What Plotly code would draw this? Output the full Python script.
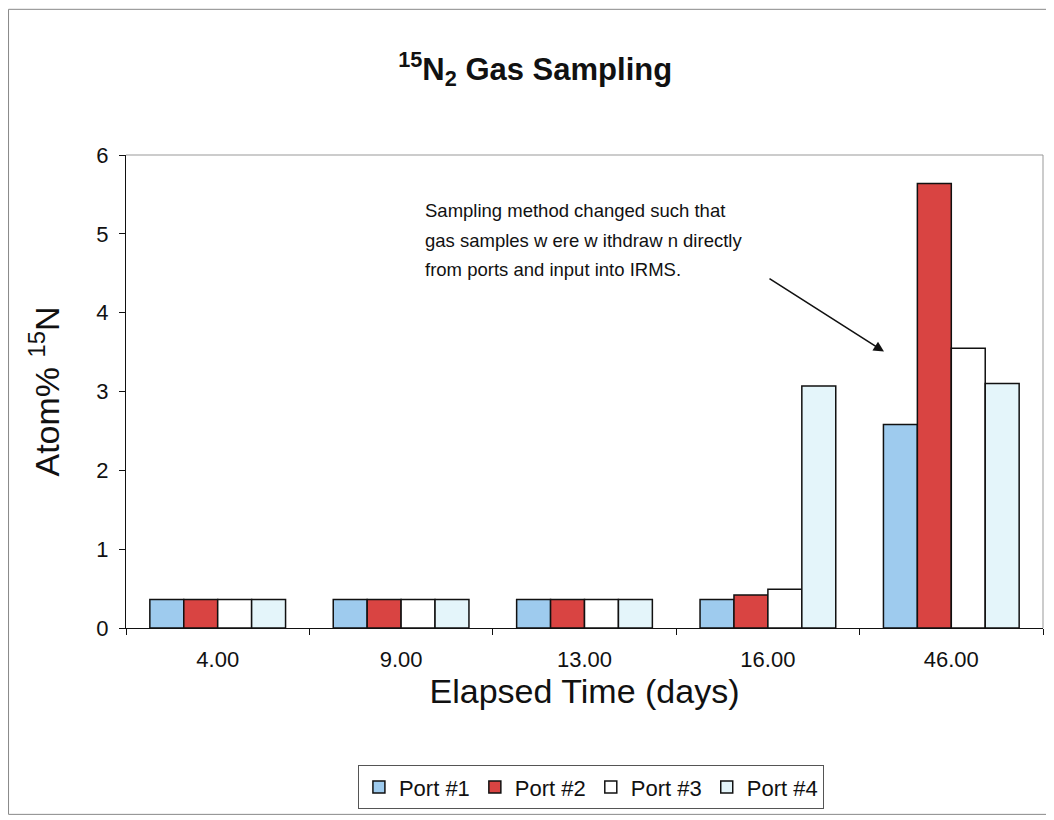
import plotly.graph_objects as go

categories = ["4.00", "9.00", "13.00", "16.00", "46.00"]
port1 = [0.36, 0.36, 0.36, 0.36, 2.58]
port2 = [0.36, 0.36, 0.36, 0.42, 5.64]
port3 = [0.36, 0.36, 0.36, 0.49, 3.55]
port4 = [0.36, 0.36, 0.36, 3.07, 3.10]
series_names = ["Port #1", "Port #2", "Port #3", "Port #4"]
series_colors = ["#9ECBEE", "#D94442", "#FFFFFF", "#E4F5FA"]
note_lines = [
    "Sampling method changed such that",
    "gas samples w ere w ithdraw n directly",
    "from ports and input into IRMS.",
]

FONT = "Liberation Sans, Arial, sans-serif"

fig = go.Figure()
for name, vals, col in zip(series_names, [port1, port2, port3, port4], series_colors):
    fig.add_trace(go.Bar(
        x=categories, y=vals, name=name,
        marker=dict(color=col, line=dict(color="#111111", width=1.5)),
    ))

fig.update_layout(
    width=1046, height=812,
    margin=dict(l=118, r=11, t=147, b=190),
    paper_bgcolor="white", plot_bgcolor="white",
    barmode="group", bargap=0.26, bargroupgap=0,
    font=dict(family=FONT, color="#111111"),
    title=dict(text="<b><sup>15</sup>N<sub>2</sub> Gas Sampling</b>",
               x=0.504, xanchor="center", xref="container",
               y=1 - 61 / 812, yanchor="middle", yref="container",
               font=dict(size=31, family=FONT, color="#111111")),
    xaxis=dict(
        type="category",
        showline=True, linecolor="#111111", linewidth=1,
        ticks="outside", ticklen=6, tickcolor="#111111", tickson="boundaries",
        tickfont=dict(size=22), ticklabelstandoff=12,
        title=dict(text="Elapsed Time (days)", font=dict(size=34), standoff=0),
        showgrid=False,
    ),
    yaxis=dict(
        range=[0, 6], dtick=1,
        showline=True, linecolor="#111111", linewidth=1,
        ticks="outside", ticklen=6, tickcolor="#111111",
        tickfont=dict(size=22), ticklabelstandoff=6,
        title=dict(text="Atom% <sup>15</sup>N", font=dict(size=34), standoff=26),
        showgrid=False, zeroline=False,
    ),
    legend=dict(
        orientation="h", x=0.507, xanchor="center", y=-0.29, yanchor="top",
        bordercolor="#555555", borderwidth=1,
        font=dict(size=22), itemwidth=30, tracegroupgap=0,
    ),
    showlegend=True,
)

# plot area top/right border (light gray) and outer chart border
fig.add_shape(type="line", xref="paper", yref="paper", x0=0, x1=1, y0=1, y1=1,
              line=dict(color="#999999", width=1))
fig.add_shape(type="line", xref="paper", yref="paper", x0=1, x1=1, y0=0, y1=1,
              line=dict(color="#999999", width=1))
fig.add_shape(type="rect", xref="paper", yref="paper",
              x0=-0.1281, x1=1.0105, y0=-0.394, y1=1.308,
              line=dict(color="#888888", width=1))

for line_text, ypos in zip(note_lines, [0.882, 0.819, 0.758]):
    fig.add_annotation(
        text=line_text,
        xref="paper", yref="paper", x=0.324, y=ypos, xanchor="left", yanchor="middle",
        align="left", showarrow=False, font=dict(size=18.5, family=FONT, color="#111111"),
    )
fig.add_annotation(
    x=3.633, y=3.506, xref="x", yref="y", text="", showarrow=True,
    ax=-116, ay=-74, arrowhead=2, arrowsize=1.3, arrowwidth=1.6, arrowcolor="#111111",
)

fig.write_html("out.html")
